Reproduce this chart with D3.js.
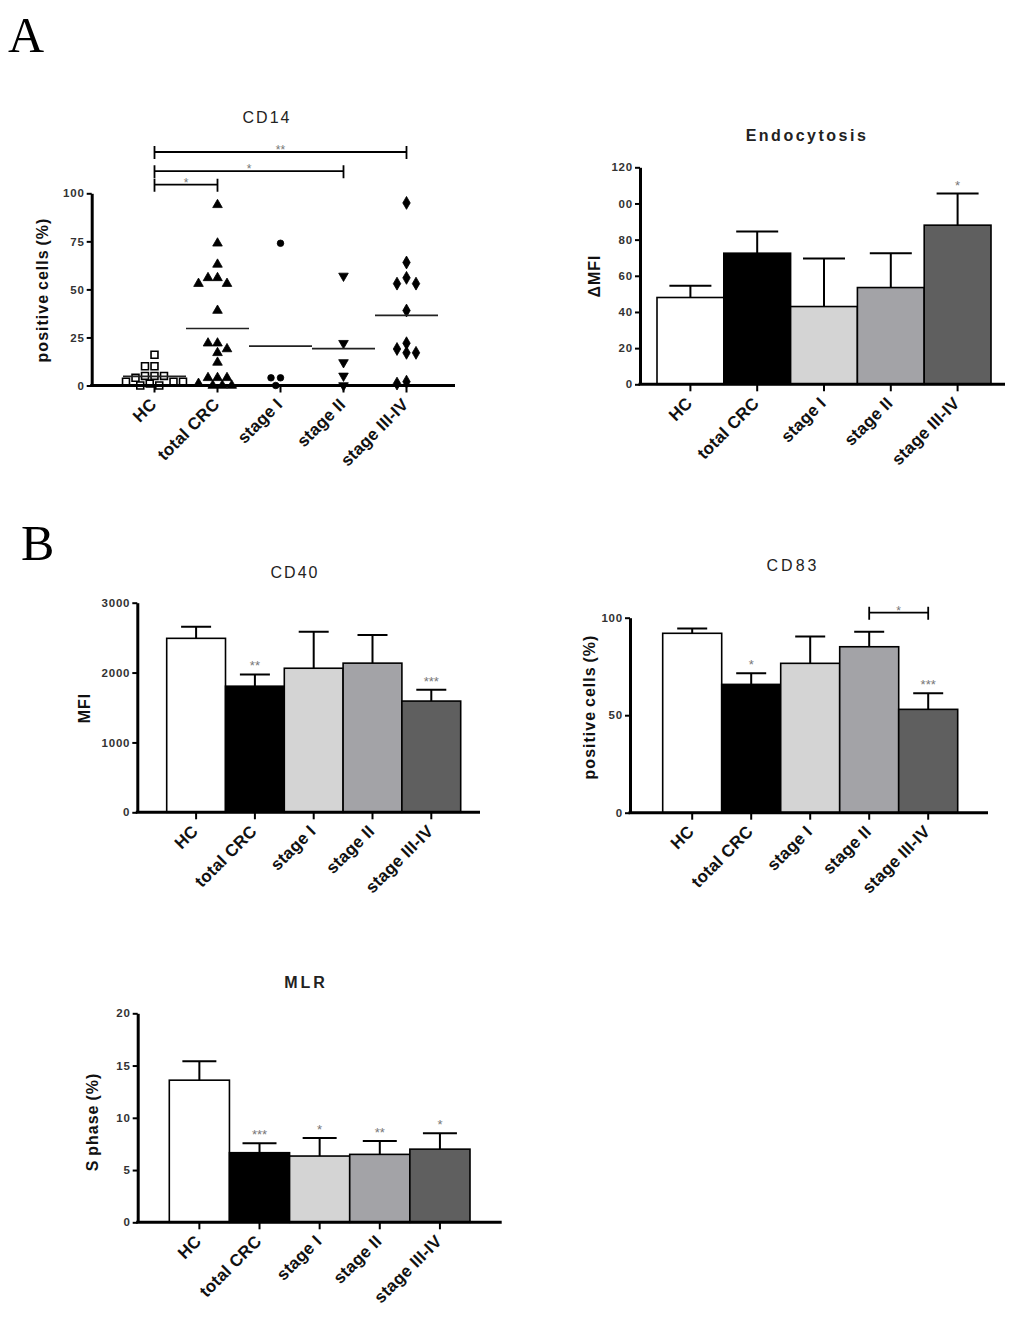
<!DOCTYPE html>
<html>
<head>
<meta charset="utf-8">
<script src="https://cdn.jsdelivr.net/npm/d3@7"></script>
<style>
  body { margin: 0; background: #fff; }
  svg text { font-family: "Liberation Sans", Arial, sans-serif; }
</style>
</head>
<body>
<svg id="fig" width="1024" height="1320"></svg>
<script>
const categories = ["HC", "total CRC", "stage I", "stage II", "stage III-IV"];
const barColors = ["#ffffff", "#000000", "#d4d4d4", "#a3a3a7", "#5f5f5f"];

// CD14, single donors (positive cells %)
const cd14HC = [16, 10, 10, 5, 5, 5, 4, 2, 2, 2, 1, 0, 0];
const cd14Total = [94, 74, 63, 56, 56, 53, 53, 39, 22, 22, 19, 17, 12, 4, 4, 4, 1, 0, 0, 0];
const cd14StageI = [74, 4, 4, 0];
const cd14StageII = [57, 22, 12, 5, 0];
const cd14StageIII = [95, 64, 56, 53, 53, 39, 22, 19, 17, 17, 2, 1];
const cd14Ticks = [0, 25, 50, 75, 100];
const cd14TickLabels = ["0", "25", "50", "75", "100"];
const cd14Brackets = [
  { from: "HC", to: "total CRC", label: "*", at: 104.5 },
  { from: "HC", to: "stage II", label: "*", at: 111.5 },
  { from: "HC", to: "stage III-IV", label: "**", at: 121.5 }
];

// Endocytosis (delta MFI)
const endoMean = [48, 72.5, 43, 53.5, 88];
const endoSem = [6.5, 12, 26.5, 19, 17.5];
const endoTicks = [0, 20, 40, 60, 80, 100, 120];
const endoTickLabels = ["0", "20", "40", "60", "80", "00", "120"];
const endoStars = ["", "", "", "", "*"];

// CD40 (MFI)
const cd40Mean = [2490, 1805, 2062, 2135, 1592];
const cd40Sem = [166, 168, 522, 402, 162];
const cd40Ticks = [0, 1000, 2000, 3000];
const cd40TickLabels = ["0", "1000", "2000", "3000"];
const cd40Stars = ["", "**", "", "", "***"];

// CD83 (positive cells %)
const cd83Mean = [92, 65.8, 76.6, 85.1, 53];
const cd83Sem = [2.4, 5.7, 13.7, 7.7, 8.2];
const cd83Ticks = [0, 50, 100];
const cd83TickLabels = ["0", "50", "100"];
const cd83Stars = ["", "*", "", "", "***"];
const cd83Brackets = [{ from: "stage II", to: "stage III-IV", label: "*", at: 102.6 }];

// MLR (S phase %)
const mlrMean = [13.6, 6.66, 6.34, 6.5, 7.0];
const mlrSem = [1.8, 0.9, 1.73, 1.28, 1.52];
const mlrTicks = [0, 5, 10, 15, 20];
const mlrTickLabels = ["0", "5", "10", "15", "20"];
const mlrStars = ["", "***", "*", "**", "*"];

const svg = d3.select("#fig");

// panel letters
svg.append("text").attr("x", 8).attr("y", 52).text("A")
  .style("font-family", "'Liberation Serif', 'Times New Roman', serif").style("font-size", "50px");
svg.append("text").attr("x", 21).attr("y", 560).text("B")
  .style("font-family", "'Liberation Serif', 'Times New Roman', serif").style("font-size", "50px");

function styleAxis(sel) {
  sel.select(".domain").attr("stroke", "#000").attr("stroke-width", 3);
  sel.selectAll(".tick line").attr("stroke", "#000").attr("stroke-width", 2);
}

function drawFrame(cfg, x, y) {
  const g = svg.append("g");

  const yAxis = g.append("g")
    .attr("transform", `translate(${cfg.axisX},0)`)
    .call(d3.axisLeft(y).tickValues(cfg.ticks)
      .tickFormat((d, i) => cfg.tickLabels[i]).tickSize(5).tickSizeOuter(0));
  styleAxis(yAxis);
  yAxis.selectAll(".tick text")
    .attr("x", -7)
    .style("font-size", "11.5px").style("font-weight", "bold")
    .style("letter-spacing", "0.8px").attr("fill", "#333");

  const xAxis = g.append("g")
    .attr("transform", `translate(0,${cfg.y0})`)
    .call(d3.axisBottom(x).tickSize(7).tickSizeOuter(0));
  xAxis.select(".domain").attr("d", `M${cfg.axisX - 1.5},0H${cfg.axisEnd}`);
  styleAxis(xAxis);
  xAxis.selectAll(".tick text").remove();

  g.selectAll("text.cat").data(categories).join("text")
    .attr("class", "cat")
    .attr("transform", d => `translate(${x(d) + x.bandwidth() / 2 + 3},${cfg.y0 + 20}) rotate(-45)`)
    .attr("text-anchor", "end")
    .style("font-size", "17px").style("font-weight", "bold")
    .style("letter-spacing", "0.2px")
    .attr("fill", "#111")
    .text(d => d);

  g.append("text")
    .attr("x", cfg.titleX).attr("y", cfg.titleY)
    .attr("text-anchor", "middle")
    .style("font-size", "16px").style("font-weight", cfg.titleBold ? "bold" : "normal")
    .style("letter-spacing", cfg.titleSpacing + "px")
    .attr("fill", "#222")
    .text(cfg.title);

  g.append("text")
    .attr("transform", `translate(${cfg.yLabelX},${cfg.yLabelY}) rotate(-90)`)
    .attr("text-anchor", "middle")
    .style("font-size", "16px").style("font-weight", "bold")
    .style("letter-spacing", "1px").style("word-spacing", "-1.5px")
    .attr("fill", "#111")
    .text(cfg.yLabel);

  return g;
}

function drawBrackets(g, brackets, x, y) {
  const cx = c => x(c) + x.bandwidth() / 2;
  brackets.forEach(b => {
    const yy = y(b.at);
    g.append("path")
      .attr("d", `M${cx(b.from)},${yy - 6}V${yy + 7}M${cx(b.from)},${yy}H${cx(b.to)}M${cx(b.to)},${yy - 6}V${yy + 7}`)
      .attr("fill", "none").attr("stroke", "#000").attr("stroke-width", 1.8);
    g.append("text")
      .attr("x", (cx(b.from) + cx(b.to)) / 2).attr("y", yy + 2)
      .attr("text-anchor", "middle")
      .style("font-size", "12px").attr("fill", "#777")
      .text(b.label);
  });
}

function barPanel(cfg) {
  const y = d3.scaleLinear().domain([0, cfg.yMax]).range([cfg.y0, cfg.yTop]);
  const x = d3.scaleBand().domain(categories).range(cfg.band).padding(0);
  const g = svg.append("g");
  const cx = i => x(categories[i]) + x.bandwidth() / 2;

  // error bars (upper only), drawn under the bars
  cfg.means.forEach((m, i) => {
    const top = y(m + cfg.sems[i]);
    g.append("path")
      .attr("d", `M${cx(i)},${y(m)}V${top}M${cx(i) - cfg.cap},${top}H${cx(i) + cfg.cap}`)
      .attr("fill", "none").attr("stroke", "#000").attr("stroke-width", 2);
    if (cfg.stars[i]) {
      g.append("text")
        .attr("x", cx(i)).attr("y", top - 4)
        .attr("text-anchor", "middle")
        .style("font-size", "13px").attr("fill", "#777")
        .text(cfg.stars[i]);
    }
  });

  g.selectAll("rect").data(cfg.means).join("rect")
    .attr("x", (d, i) => x(categories[i]))
    .attr("y", d => y(d))
    .attr("width", x.bandwidth())
    .attr("height", d => y(0) - y(d))
    .attr("fill", (d, i) => barColors[i])
    .attr("stroke", "#000").attr("stroke-width", 1.6);

  const frame = drawFrame(cfg, x, y);
  if (cfg.brackets) drawBrackets(frame, cfg.brackets, x, y);
}

// simple beeswarm: place each point at the smallest offset that does not overlap
function swarm(values, y, diam) {
  const placed = [];
  values.slice().sort((a, b) => b - a).forEach(v => {
    const p = { v: v, py: y(v) };
    for (let k = 0; k < 60; k++) {
      const off = (k % 2 === 0 ? 1 : -1) * Math.ceil(k / 2) * diam / 2;
      if (placed.every(q => (q.dx - off) ** 2 + (q.py - p.py) ** 2 >= diam * diam * 0.85)) {
        p.dx = off;
        break;
      }
    }
    placed.push(p);
  });
  return placed;
}

function scatterPanel(cfg) {
  const y = d3.scaleLinear().domain([0, cfg.yMax]).range([cfg.y0, cfg.yTop]);
  const x = d3.scaleBand().domain(categories).range(cfg.band).padding(0);
  const g = svg.append("g");

  const groups = [cd14HC, cd14Total, cd14StageI, cd14StageII, cd14StageIII];
  const symbols = [
    { type: d3.symbolSquare, size: 48, open: true, rot: 0 },
    { type: d3.symbolTriangle, size: 40, open: false, rot: 0 },
    { type: d3.symbolCircle, size: 34, open: false, rot: 0 },
    { type: d3.symbolTriangle, size: 40, open: false, rot: 180 },
    { type: d3.symbolDiamond, size: 48, open: false, rot: 0 }
  ];

  groups.forEach((vals, i) => {
    const c = x(categories[i]) + x.bandwidth() / 2;
    const s = symbols[i];
    const pts = swarm(vals, y, 9.5);
    g.selectAll(null).data(pts).join("path")
      .attr("d", d3.symbol().type(s.type).size(s.size))
      .attr("transform", d => `translate(${c + d.dx},${d.py}) rotate(${s.rot})`)
      .attr("fill", s.open ? "#fff" : "#000")
      .attr("stroke", "#000").attr("stroke-width", s.open ? 1.6 : 0.8);

    const m = d3.mean(vals);
    g.append("line")
      .attr("x1", x(categories[i])).attr("x2", x(categories[i]) + x.bandwidth())
      .attr("y1", y(m)).attr("y2", y(m))
      .attr("stroke", "#222").attr("stroke-width", 1.6);
  });

  const frame = drawFrame(cfg, x, y);
  drawBrackets(frame, cfg.brackets, x, y);
}

scatterPanel({
  title: "CD14", titleX: 267, titleY: 123, titleSpacing: 2,
  yLabel: "positive cells (%)", yLabelX: 48, yLabelY: 290,
  yMax: 100, ticks: cd14Ticks, tickLabels: cd14TickLabels,
  axisX: 91.7, y0: 385.5, yTop: 193.3, band: [123, 438], axisEnd: 455,
  brackets: cd14Brackets
});

barPanel({
  title: "Endocytosis", titleX: 807, titleY: 141, titleSpacing: 2.5, titleBold: true,
  yLabel: "\u0394MFI", yLabelX: 600, yLabelY: 276,
  yMax: 120, ticks: endoTicks, tickLabels: endoTickLabels,
  means: endoMean, sems: endoSem, stars: endoStars,
  axisX: 640, y0: 384.3, yTop: 167.3, band: [657, 991], axisEnd: 1005, cap: 21
});

barPanel({
  title: "CD40", titleX: 295, titleY: 578, titleSpacing: 2,
  yLabel: "MFI", yLabelX: 90, yLabelY: 708,
  yMax: 3000, ticks: cd40Ticks, tickLabels: cd40TickLabels,
  means: cd40Mean, sems: cd40Sem, stars: cd40Stars,
  axisX: 137.3, y0: 812.3, yTop: 602.7, band: [166.7, 460.7], axisEnd: 480, cap: 15
});

barPanel({
  title: "CD83", titleX: 793, titleY: 571, titleSpacing: 3,
  yLabel: "positive cells (%)", yLabelX: 595, yLabelY: 707,
  yMax: 100, ticks: cd83Ticks, tickLabels: cd83TickLabels,
  means: cd83Mean, sems: cd83Sem, stars: cd83Stars,
  axisX: 630, y0: 812.7, yTop: 617.7, band: [662.7, 957.7], axisEnd: 988, cap: 15,
  brackets: cd83Brackets
});

barPanel({
  title: "MLR", titleX: 306, titleY: 988, titleSpacing: 3, titleBold: true,
  yLabel: "S phase (%)", yLabelX: 98, yLabelY: 1122,
  yMax: 20, ticks: mlrTicks, tickLabels: mlrTickLabels,
  means: mlrMean, sems: mlrSem, stars: mlrStars,
  axisX: 137.7, y0: 1222.3, yTop: 1013.3, band: [169.3, 470], axisEnd: 501.7, cap: 17
});
</script>
</body>
</html>
